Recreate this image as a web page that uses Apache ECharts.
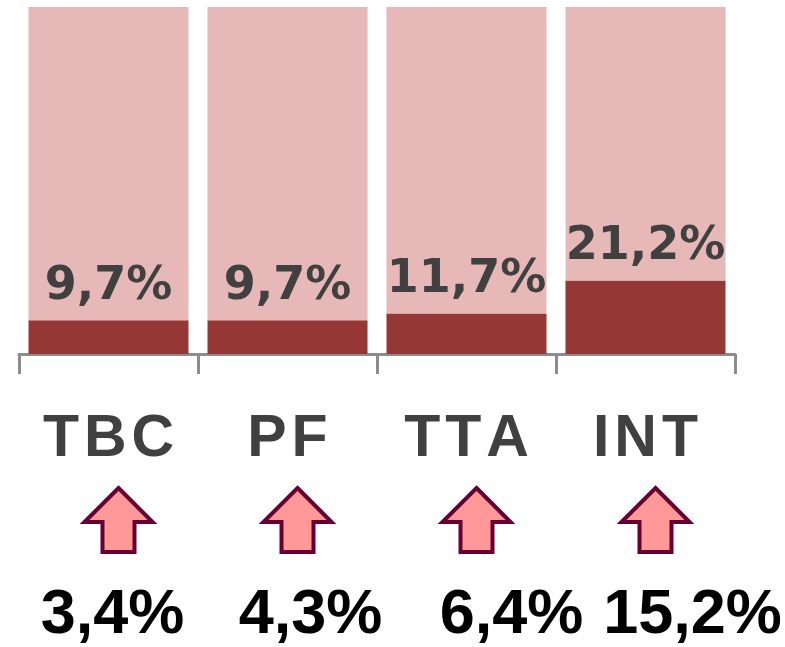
<!DOCTYPE html>
<html>
<head>
<meta charset="UTF-8">
<title>Chart</title>
<script src="https://cdn.jsdelivr.net/npm/echarts@6/dist/echarts.min.js"></script>
<style>
    html, body { margin: 0; padding: 0; background: #fff; }
    #chart { width: 785px; height: 647px; }
</style>
</head>
<body>
<div id="chart"></div>
<script>
    // data
    var categories = ['TBC', 'PF', 'TTA', 'INT'];
    var shareValues = [9.7, 9.7, 11.7, 21.2];
    var changeValues = [3.4, 4.3, 6.4, 15.2];

    // layout tweaks for the annotations under the axis (pixels)
    var arrowShift = 10;
    var changeLabelShift = [4, 23, 45, 47];

    function pct(v) {
        return v.toFixed(1).replace('.', ',') + '%';
    }

    var restValues = shareValues.map(function (v) { return 100 - v; });

    var chart = echarts.init(document.getElementById('chart'));

    var option = {
        animation: false,
        grid: { left: 19, right: 50, top: 7, bottom: 293 },
        xAxis: {
            type: 'category',
            data: categories,
            axisLine: { lineStyle: { color: '#8c8c8c', width: 3 } },
            axisTick: { show: true, length: 20, lineStyle: { color: '#8c8c8c', width: 3 } },
            axisLabel: {
                margin: 56,
                color: '#404040',
                fontFamily: 'Liberation Sans',
                fontWeight: 'bold',
                fontSize: 59,
                // slightly spaced letters like the original
                formatter: function (v) { return v.split('').join('\u200a'); }
            }
        },
        yAxis: {
            type: 'value',
            min: 0,
            max: 100,
            show: false
        },
        series: [
            {
                type: 'bar',
                stack: 'total',
                barWidth: 160,
                data: shareValues,
                itemStyle: { color: '#953735' },
                label: {
                    show: true,
                    position: 'top',
                    distance: 10,
                    color: '#404040',
                    fontFamily: 'DejaVu Sans',
                    fontWeight: 'bold',
                    fontSize: 46,
                    formatter: function (p) { return pct(p.value); }
                }
            },
            {
                type: 'bar',
                stack: 'total',
                barWidth: 160,
                data: restValues,
                itemStyle: { color: '#e6b9b8' }
            },
            {
                type: 'custom',
                data: changeValues.map(function (v, i) { return [i, v]; }),
                renderItem: function (params, api) {
                    var i = api.value(0);
                    var base = api.coord([i, 0]);
                    var cx = base[0] + arrowShift;
                    var top = base[1] + 134;
                    var arrow = [
                        [cx, top],
                        [cx + 34, top + 34],
                        [cx + 16, top + 34],
                        [cx + 16, top + 64],
                        [cx - 16, top + 64],
                        [cx - 16, top + 34],
                        [cx - 34, top + 34]
                    ];
                    return {
                        type: 'group',
                        children: [
                            {
                                type: 'polygon',
                                shape: { points: arrow },
                                style: { fill: '#ff9999', stroke: '#660033', lineWidth: 4, lineJoin: 'miter' }
                            },
                            {
                                type: 'text',
                                x: base[0] + changeLabelShift[i],
                                y: base[1] + 262,
                                style: {
                                    text: pct(api.value(1)),
                                    fill: '#000',
                                    font: 'bold 63px "Liberation Sans"',
                                    align: 'center',
                                    verticalAlign: 'middle'
                                }
                            }
                        ]
                    };
                }
            }
        ]
    };

    chart.setOption(option);
</script>
</body>
</html>
